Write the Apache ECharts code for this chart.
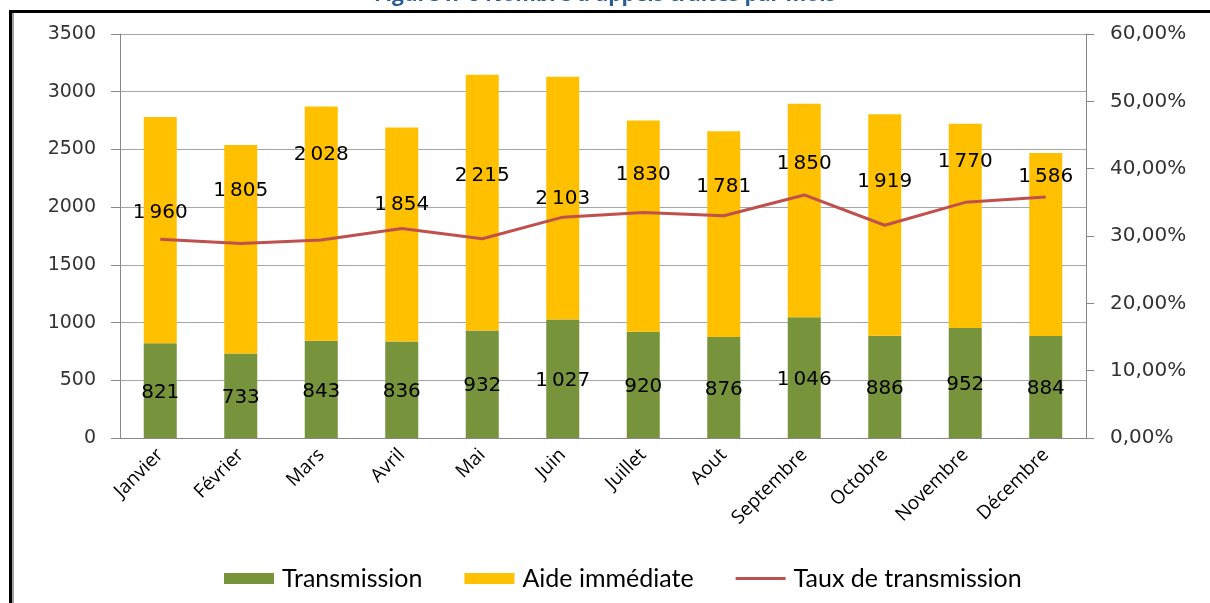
<!DOCTYPE html>
<html>
<head>
<meta charset="utf-8">
<script src="https://cdn.jsdelivr.net/npm/echarts@6/dist/echarts.min.js"></script>
<style>
  html, body { margin: 0; padding: 0; background: #fff; }
  #main { width: 1210px; height: 603px; }
</style>
</head>
<body>
<div id="main"></div>
<script>
// données
var mois = ['Janvier', 'Février', 'Mars', 'Avril', 'Mai', 'Juin', 'Juillet', 'Aout', 'Septembre', 'Octobre', 'Novembre', 'Décembre'];
var transmission = [821, 733, 843, 836, 932, 1027, 920, 876, 1046, 886, 952, 884];
var aide = [1960, 1805, 2028, 1854, 2215, 2103, 1830, 1781, 1850, 1919, 1770, 1586];
var taux = [0.295, 0.289, 0.294, 0.311, 0.296, 0.328, 0.335, 0.330, 0.361, 0.316, 0.350, 0.358];

// décalage vertical (px) des étiquettes "Aide immédiate", déplacées à la main dans l'original
var aideLabelShift = [-17, -58, -69, -30, -27, 1, -51, -47, -47, -43, -64, -68];

function milliers(v) {
    var s = String(v);
    return s.length > 3 ? s.slice(0, -3) + '\u2009' + s.slice(-3) : s;
}

var myChart = echarts.init(document.getElementById('main'));

var labelFont = {
    color: '#000',
    fontFamily: 'DejaVu Sans',
    fontSize: 20,
    formatter: function (p) { return milliers(p.value); }
};

var option = {
    animation: false,
    title: {
        text: "Figure n°6 Nombre d'appels traités par mois",
        left: 'center',
        top: -20,
        textStyle: {color: '#2a5b91', fontFamily: 'Open Sans', fontWeight: 'bold', fontSize: 21}
    },
    graphic: [
        {type: 'rect', shape: {x: 9, y: 10, width: 1210, height: 3}, style: {fill: '#000'}},
        {type: 'rect', shape: {x: 9, y: 10, width: 3, height: 600}, style: {fill: '#000'}},
        {type: 'rect', shape: {x: 12, y: 13, width: 2, height: 600}, style: {fill: '#a0a0a0'}}
    ],
    grid: {left: 120, right: 124, top: 34, bottom: 165},
    legend: {
        bottom: 7,
        left: 219,
        itemWidth: 50,
        itemHeight: 11,
        itemGap: 42,
        textStyle: {color: '#000', fontFamily: 'Lato', fontSize: 25, padding: [0, 0, 0, 3]},
        data: [
            {name: 'Transmission', icon: 'rect'},
            {name: 'Aide immédiate', icon: 'rect'},
            {name: 'Taux de transmission', icon: 'path://M0,0 M0,11 M0,4 L50,4 L50,7 L0,7 Z'}
        ]
    },
    xAxis: {
        type: 'category',
        data: mois,
        axisLine: {lineStyle: {color: '#888'}},
        axisTick: {length: 6, lineStyle: {color: '#888'}},
        axisLabel: {rotate: 45, margin: 14, color: '#000', fontFamily: 'Open Sans', fontSize: 19, interval: 0}
    },
    yAxis: [
        {
            type: 'value',
            min: 0,
            max: 3500,
            interval: 500,
            axisLine: {show: true, lineStyle: {color: '#888'}},
            axisTick: {show: true, length: 9, lineStyle: {color: '#888'}},
            axisLabel: {
                margin: 24, color: '#333', fontFamily: 'DejaVu Sans', fontSize: 19,
                formatter: function (v) { return String(v); }
            },
            splitLine: {lineStyle: {color: '#a6a6a6'}}
        },
        {
            type: 'value',
            min: 0,
            max: 0.6,
            interval: 0.1,
            axisLine: {show: true, lineStyle: {color: '#888'}},
            axisTick: {show: true, length: 8, lineStyle: {color: '#888'}},
            axisLabel: {
                margin: 24, color: '#333', fontFamily: 'DejaVu Sans', fontSize: 20,
                formatter: function (v) { return (v * 100).toFixed(2).replace('.', ',') + '%'; }
            },
            splitLine: {show: false}
        }
    ],
    series: [
        {
            name: 'Transmission',
            type: 'bar',
            stack: 'appels',
            barWidth: 33,
            itemStyle: {color: '#77933c'},
            label: Object.assign({show: true, position: 'inside', offset: [0, 2]}, labelFont),
            data: transmission
        },
        {
            name: 'Aide immédiate',
            type: 'bar',
            stack: 'appels',
            barWidth: 33,
            itemStyle: {color: '#ffc000'},
            label: Object.assign({show: true, position: 'inside'}, labelFont),
            data: aide.map(function (v, i) {
                return {value: v, label: {offset: [0, aideLabelShift[i]]}};
            })
        },
        {
            name: 'Taux de transmission',
            type: 'line',
            yAxisIndex: 1,
            symbol: 'none',
            z: 5,
            lineStyle: {color: '#c0504d', width: 3},
            itemStyle: {color: '#c0504d'},
            data: taux
        }
    ]
};

myChart.setOption(option);
</script>
</body>
</html>
